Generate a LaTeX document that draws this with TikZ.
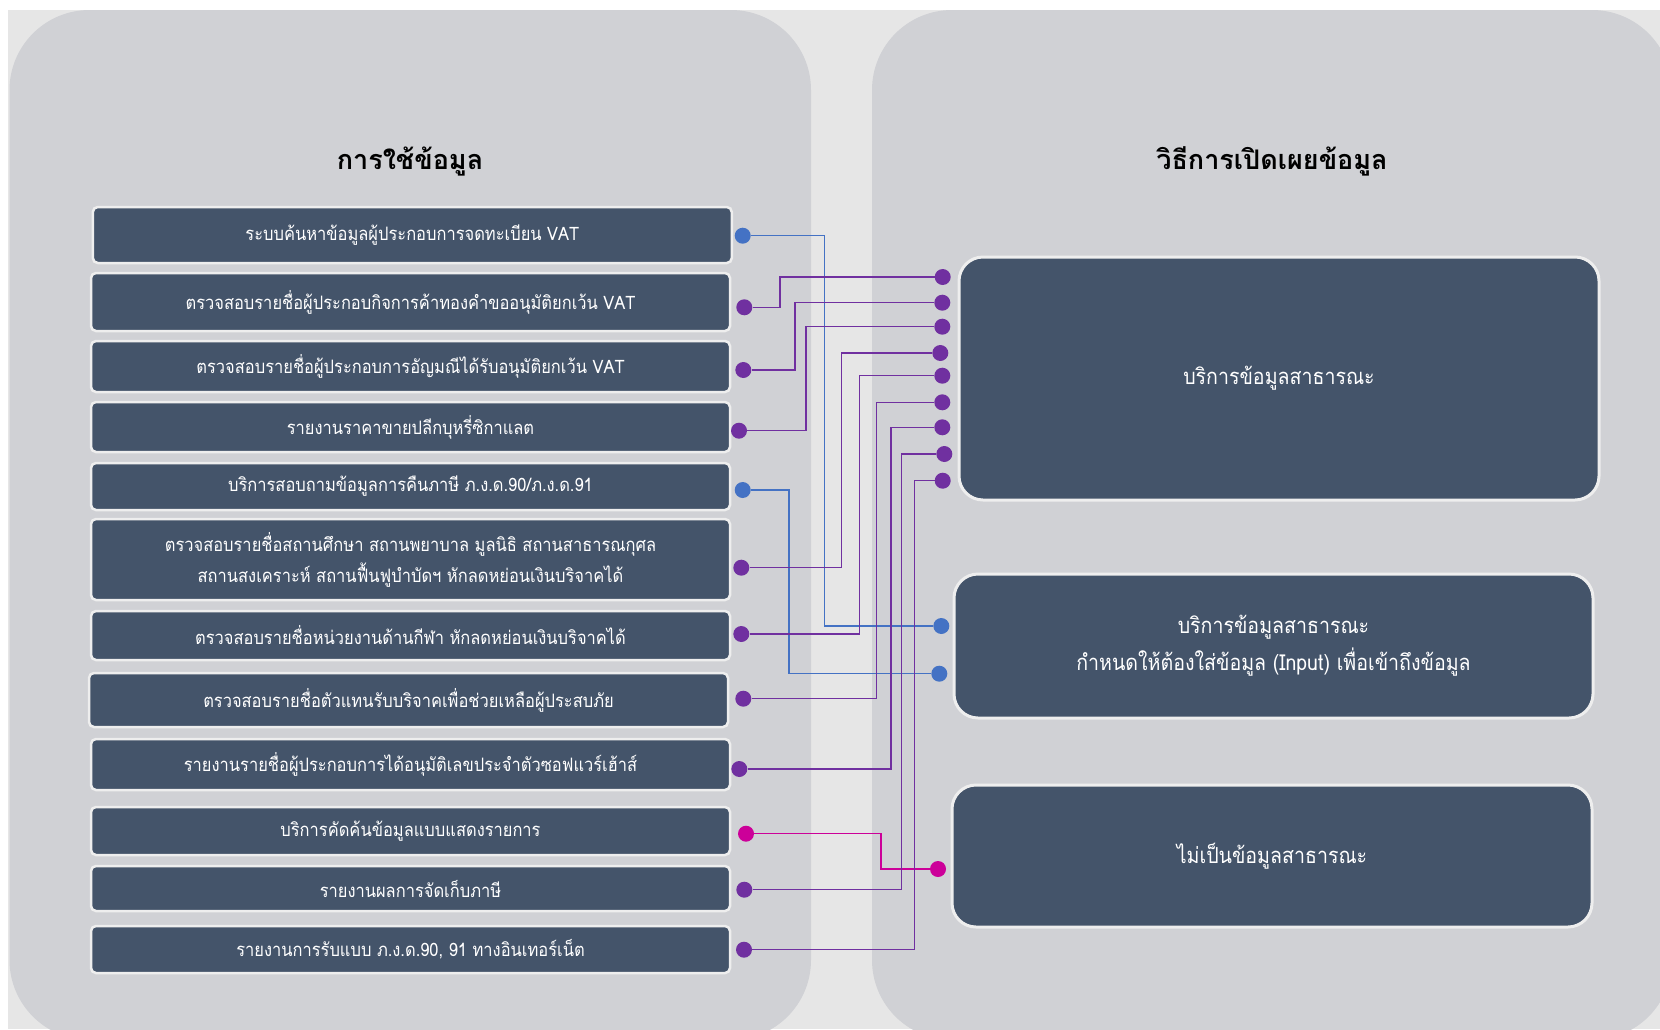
\documentclass[tikz,border=0pt]{standalone}
\usepackage{fontspec}
\newfontfamily\thai[Script=Thai]{Loma}
\newfontfamily\thaic[Script=Thai, FakeStretch=0.89]{Loma}
\definecolor{bgl}{HTML}{E6E6E6}
\definecolor{panelc}{HTML}{D0D1D5}
\definecolor{boxc}{HTML}{44546A}
\definecolor{edgec}{HTML}{EEEEEE}
\definecolor{cblue}{HTML}{4472C4}
\definecolor{cpur}{HTML}{7030A0}
\definecolor{cmag}{HTML}{CC0099}
\begin{document}
\begin{tikzpicture}[x=1pt,y=-1pt,
  lbox/.style={draw=edgec, line width=2.5pt, fill=boxc, rounded corners=5pt, text=white,
    font=\thaic\fontsize{18.5}{31}\selectfont, align=center, inner sep=0pt, minimum width=639pt},
  rbox/.style={draw=edgec, line width=3pt, fill=boxc, rounded corners=24pt, text=white,
    font=\thaic\fontsize{22}{37}\selectfont, align=center, inner sep=0pt},
  ldot/.style={circle, fill=#1, inner sep=0pt, minimum size=16pt},
  link/.style={draw=#1, line width=1.5pt},
  ttl/.style={font=\thai\bfseries\fontsize{27}{30}\selectfont, text=black, anchor=base}
]
\useasboundingbox (0,0) rectangle (1660,1029);
\clip (0,0) rectangle (1660,1029);
\fill[white] (0,0) rectangle (1660,1029);
\fill[bgl] (8,10) rectangle (1660,1029);
\fill[panelc, rounded corners=80pt] (9.5,10) rectangle (811,1040);
\fill[panelc, rounded corners=80pt] (872,10) rectangle (1672,1040);

\node[ttl] (t1) at (410,169) {การใช้ข้อมูล};
\node[ttl] (t2) at (1272,169) {วิธีการเปิดเผยข้อมูล};

% left boxes
\node[lbox, minimum height=56pt] (b1) at (412.3,235) {ระบบค้นหาข้อมูลผู้ประกอบการจดทะเบียน VAT};
\node[lbox, minimum height=58pt] (b2) at (410.5,302) {ตรวจสอบรายชื่อผู้ประกอบกิจการค้าทองคำขออนุมัติยกเว้น VAT};
\node[lbox, minimum height=51pt] (b3) at (410.5,366.5) {ตรวจสอบรายชื่อผู้ประกอบการอัญมณีได้รับอนุมัติยกเว้น VAT};
\node[lbox, minimum height=50pt] (b4) at (410.5,427) {รายงานราคาขายปลีกบุหรี่ซิกาแลต};
\node[lbox, minimum height=47pt] (b5) at (410.5,486.5) {บริการสอบถามข้อมูลการคืนภาษี ภ.ง.ด.90/ภ.ง.ด.91};
\node[lbox, minimum height=81pt] (b6) at (410.5,559.5) {ตรวจสอบรายชื่อสถานศึกษา สถานพยาบาล มูลนิธิ สถานสาธารณกุศล\\สถานสงเคราะห์ สถานฟื้นฟูบำบัดฯ หักลดหย่อนเงินบริจาคได้};
\node[lbox, minimum height=49pt] (b7) at (410.5,635.5) {ตรวจสอบรายชื่อหน่วยงานด้านกีฬา หักลดหย่อนเงินบริจาคได้};
\node[lbox, minimum height=54pt] (b8) at (408.5,700) {ตรวจสอบรายชื่อตัวแทนรับบริจาคเพื่อช่วยเหลือผู้ประสบภัย};
\node[lbox, minimum height=51pt] (b9) at (410.5,764.5) {รายงานรายชื่อผู้ประกอบการได้อนุมัติเลขประจำตัวซอฟแวร์เฮ้าส์};
\node[lbox, minimum height=48pt] (b10) at (410.5,831) {บริการคัดค้นข้อมูลแบบแสดงรายการ};
\node[lbox, minimum height=45pt] (b11) at (410.5,888.5) {รายงานผลการจัดเก็บภาษี};
\node[lbox, minimum height=47pt] (b12) at (410.5,949.5) {รายงานการรับแบบ ภ.ง.ด.90, 91 ทางอินเทอร์เน็ต};

% right boxes
\node[rbox, minimum width=640pt, minimum height=243pt] (r1) at (1279,378.5) {บริการข้อมูลสาธารณะ};
\node[rbox, minimum width=639pt, minimum height=144pt] (r2) at (1273.5,646) {บริการข้อมูลสาธารณะ\\กำหนดให้ต้องใส่ข้อมูล (Input) เพื่อเข้าถึงข้อมูล};
\node[rbox, minimum width=640pt, minimum height=142pt] (r3) at (1272,856) {ไม่เป็นข้อมูลสาธารณะ};

% left dots
\node[ldot=cblue] (l1) at (742.7,235.7) {};
\node[ldot=cpur] (l2) at (744.3,307.3) {};
\node[ldot=cpur] (l3) at (743.3,370) {};
\node[ldot=cpur] (l4) at (739,430.7) {};
\node[ldot=cblue] (l5) at (742.7,490) {};
\node[ldot=cpur] (l6) at (741.3,567.7) {};
\node[ldot=cpur] (l7) at (741.3,634) {};
\node[ldot=cpur] (l8) at (743.3,698.7) {};
\node[ldot=cpur] (l9) at (739.3,769) {};
\node[ldot=cmag] (l10) at (746,833.7) {};
\node[ldot=cpur] (l11) at (744.3,889.7) {};
\node[ldot=cpur] (l12) at (744,949.7) {};

% right dots
\node[ldot=cpur] (p1) at (942.7,277) {};
\node[ldot=cpur] (p2) at (942.3,302.7) {};
\node[ldot=cpur] (p3) at (942.3,326.7) {};
\node[ldot=cpur] (p4) at (940.3,353) {};
\node[ldot=cpur] (p5) at (942.3,375.7) {};
\node[ldot=cpur] (p6) at (942.3,402.3) {};
\node[ldot=cpur] (p7) at (942.3,427.3) {};
\node[ldot=cpur] (p8) at (944.3,454) {};
\node[ldot=cpur] (p9) at (942.7,480.7) {};
\node[ldot=cblue] (q1) at (941.3,626) {};
\node[ldot=cblue] (q2) at (939.3,673.7) {};
\node[ldot=cmag] (m1) at (938,869) {};

% bend columns
\coordinate (v1) at (824.3,0);
\coordinate (v2) at (780,0);
\coordinate (v3) at (795,0);
\coordinate (v4) at (806,0);
\coordinate (v5) at (789,0);
\coordinate (v6) at (841.3,0);
\coordinate (v7) at (859.3,0);
\coordinate (v8) at (876.3,0);
\coordinate (v9) at (891,0);
\coordinate (v10) at (881,0);
\coordinate (v11) at (901.7,0);
\coordinate (v12) at (914.7,0);

\draw[link=cblue] (l1) -| (v1 |- q1) -- (q1);
\draw[link=cpur] (l2) -| (v2 |- p1) -- (p1);
\draw[link=cpur] (l3) -| (v3 |- p2) -- (p2);
\draw[link=cpur] (l4) -| (v4 |- p3) -- (p3);
\draw[link=cblue] (l5) -| (v5 |- q2) -- (q2);
\draw[link=cpur] (l6) -| (v6 |- p4) -- (p4);
\draw[link=cpur] (l7) -| (v7 |- p5) -- (p5);
\draw[link=cpur] (l8) -| (v8 |- p6) -- (p6);
\draw[link=cpur] (l9) -| (v9 |- p7) -- (p7);
\draw[link=cmag] (l10) -| (v10 |- m1) -- (m1);
\draw[link=cpur] (l11) -| (v11 |- p8) -- (p8);
\draw[link=cpur] (l12) -| (v12 |- p9) -- (p9);
\end{tikzpicture}
\end{document}
